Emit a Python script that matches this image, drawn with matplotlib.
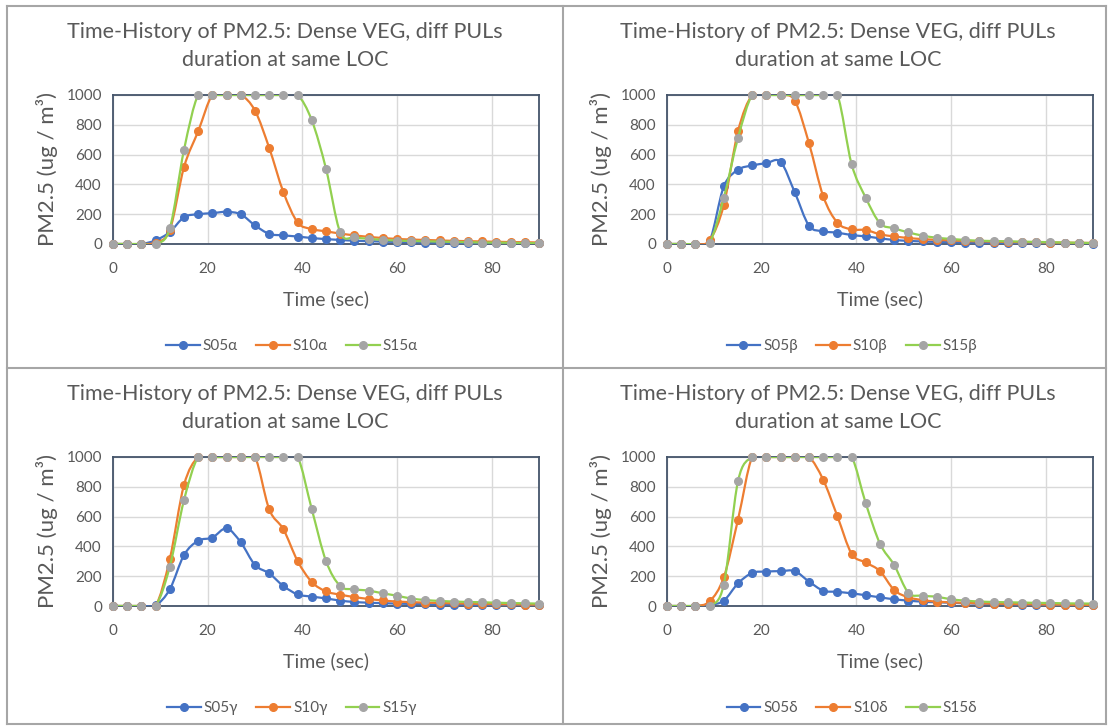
import matplotlib
matplotlib.use("Agg")
import matplotlib.pyplot as plt
from matplotlib.path import Path
from matplotlib.patches import PathPatch
from matplotlib.lines import Line2D

plt.rcParams['font.family'] = ['Lato', 'DejaVu Sans']

# time axis, one sample every 3 seconds
time_sec = list(range(0, 91, 3))

s05_alpha = [0, 0, 0, 25, 80, 180, 200, 207, 216, 199, 125, 68, 58, 50, 40, 33, 27, 22, 19, 16,
             14, 12, 10, 9, 8, 7, 6, 5, 5, 4, 4]
s10_alpha = [0, 0, 0, 10, 95, 516, 757, 1000, 1000, 1000, 895, 645, 348, 145, 100, 85, 70, 58, 48, 40,
             34, 30, 27, 24, 21, 19, 17, 15, 13, 12, 10]
s15_alpha = [0, 0, 0, 0, 105, 632, 1000, 1000, 1000, 1000, 1000, 1000, 1000, 1000, 830, 505, 78, 45, 35, 28,
             23, 20, 18, 16, 14, 12, 10, 9, 8, 6, 5]

s05_beta = [0, 0, 0, 20, 386, 498, 527, 542, 551, 346, 123, 85, 76, 60, 51, 38, 27, 21, 17, 14,
            12, 10, 9, 8, 7, 6, 5, 5, 4, 4, 3]
s10_beta = [0, 0, 0, 25, 262, 757, 1000, 1000, 1000, 962, 676, 321, 143, 98, 94, 65, 51, 40, 33, 28,
            24, 20, 18, 16, 14, 12, 11, 10, 9, 8, 7]
s15_beta = [0, 0, 0, 10, 310, 712, 1000, 1000, 1000, 1000, 1000, 1000, 1000, 536, 310, 139, 105, 78, 56, 42,
            34, 27, 22, 20, 18, 16, 14, 12, 10, 8, 6]

s05_gamma = [0, 0, 0, 5, 112, 342, 438, 459, 521, 427, 275, 219, 134, 78, 63, 51, 36, 27, 22, 19,
             16, 14, 12, 10, 9, 8, 7, 6, 5, 4, 4]
s10_gamma = [0, 0, 0, 0, 315, 812, 1000, 1000, 1000, 1000, 1000, 649, 515, 302, 161, 98, 76, 60, 47, 37,
             30, 26, 23, 20, 18, 16, 14, 12, 11, 10, 9]
s15_gamma = [0, 0, 0, 0, 264, 711, 1000, 1000, 1000, 1000, 1000, 1000, 1000, 1000, 649, 302, 134, 112, 103, 85,
             69, 50, 40, 34, 30, 27, 25, 22, 20, 18, 16]

s05_delta = [0, 0, 0, 7, 36, 152, 222, 231, 234, 234, 164, 103, 95, 85, 72, 58, 45, 36, 29, 25,
             22, 18, 16, 14, 12, 10, 9, 8, 7, 6, 5]
s10_delta = [0, 0, 0, 31, 193, 580, 1000, 1000, 1000, 1000, 1000, 847, 602, 351, 292, 234, 107, 58, 40, 29,
             25, 21, 18, 16, 14, 12, 11, 10, 9, 8, 7]
s15_delta = [0, 0, 0, 0, 144, 838, 1000, 1000, 1000, 1000, 1000, 1000, 1000, 1000, 688, 418, 275, 89, 69, 62,
             45, 36, 30, 27, 25, 23, 21, 20, 18, 17, 16]

panels = [
    ("α", [s05_alpha, s10_alpha, s15_alpha]),
    ("β", [s05_beta, s10_beta, s15_beta]),
    ("γ", [s05_gamma, s10_gamma, s15_gamma]),
    ("δ", [s05_delta, s10_delta, s15_delta]),
]
series_names = ["S05", "S10", "S15"]

title_1 = "Time-History of PM2.5: Dense VEG, diff PULs"
title_2 = "duration at same LOC"

line_colors = ["#4472C4", "#ED7D31", "#92D050"]
marker_colors = ["#4472C4", "#ED7D31", "#A5A5A5"]
text_color = "#595959"
W, H = 1110, 727


def smooth_path(x, y):
    # bezier through the points, same idea as the excel "smoothed line"
    n = len(x)
    verts = [(x[0], y[0])]
    codes = [Path.MOVETO]
    for i in range(n - 1):
        xa, ya = (x[i - 1], y[i - 1]) if i > 0 else (x[i], y[i])
        xd, yd = (x[i + 2], y[i + 2]) if i + 2 < n else (x[i + 1], y[i + 1])
        c1 = (x[i] + (x[i + 1] - xa) / 6, y[i] + (y[i + 1] - ya) / 6)
        c2 = (x[i + 1] - (xd - x[i]) / 6, y[i + 1] - (yd - y[i]) / 6)
        verts += [c1, c2, (x[i + 1], y[i + 1])]
        codes += [Path.CURVE4] * 3
    return Path(verts, codes)


fig = plt.figure(figsize=(W / 100, H / 100), dpi=100)

# cell layout in pixels: axes left, axes top, cell centre for title/legend
ax_left = [113, 667, 113, 667]
ax_top = [95, 95, 457, 457]
cell_cx = [285, 838, 285, 838]
legend_cx = [292, 852, 292, 852]
ax_w, ax_h = 426, 149

for k, (greek, data) in enumerate(panels):
    ax = fig.add_axes([ax_left[k] / W, 1 - (ax_top[k] + ax_h) / H, ax_w / W, ax_h / H])
    for j, vals in enumerate(data):
        patch = PathPatch(smooth_path(time_sec, vals), fill=False, edgecolor=line_colors[j],
                          lw=1.6, zorder=3 + j, transform=ax.transData)
        ax.add_patch(patch)
        ax.plot(time_sec, vals, 'o', ls='none', ms=5.5, color=marker_colors[j],
                clip_on=False, zorder=3.5 + j)

    ax.set_xlim(0, 90)
    ax.set_ylim(0, 1000)
    ax.set_xticks([0, 20, 40, 60, 80])
    ax.set_yticks(range(0, 1001, 200))
    ax.grid(True, color="#D9D9D9", lw=1.0)
    ax.set_axisbelow(True)
    for sp in ax.spines.values():
        sp.set_color("#44546A")
        sp.set_linewidth(1.3)
    ax.tick_params(length=0, labelsize=11, labelcolor=text_color)
    ax.tick_params(axis='x', pad=13)
    ax.tick_params(axis='y', pad=8)
    ax.set_xlabel("Time (sec)", fontsize=14, color=text_color, labelpad=10)
    ax.set_ylabel("PM2.5 (ug / m³)", fontsize=16, color=text_color, labelpad=6)

    top = ax_top[k] - 95
    fig.text(cell_cx[k] / W, 1 - (top + 32) / H, title_1, ha="center", va="center",
             fontsize=15.5, color=text_color)
    fig.text(cell_cx[k] / W, 1 - (top + 60) / H, title_2, ha="center", va="center",
             fontsize=15.5, color=text_color)

    handles = [Line2D([], [], color=line_colors[j], marker='o', ms=5.5, mfc=marker_colors[j],
                      mec=marker_colors[j], lw=1.6) for j in range(3)]
    labels = [name + greek for name in series_names]
    fig.legend(handles, labels, loc="center", ncol=3, frameon=False,
               bbox_to_anchor=(legend_cx[k] / W, 1 - (top + 346) / H),
               fontsize=11, labelcolor=text_color, handlelength=2.2,
               handletextpad=0.2, columnspacing=1.2)

# grey frame lines around and between the four charts
frame = "#A6A6A6"
for xs, ys in [([7, 1106], [6, 6]), ([7, 1106], [724, 724]), ([7, 7], [6, 724]),
               ([1106, 1106], [6, 724]), ([563, 563], [6, 724]), ([7, 1106], [368, 368])]:
    fig.add_artist(Line2D([x / W for x in xs], [1 - y / H for y in ys], color=frame, lw=1.5,
                          transform=fig.transFigure))

fig.savefig("out.png", dpi=100)
